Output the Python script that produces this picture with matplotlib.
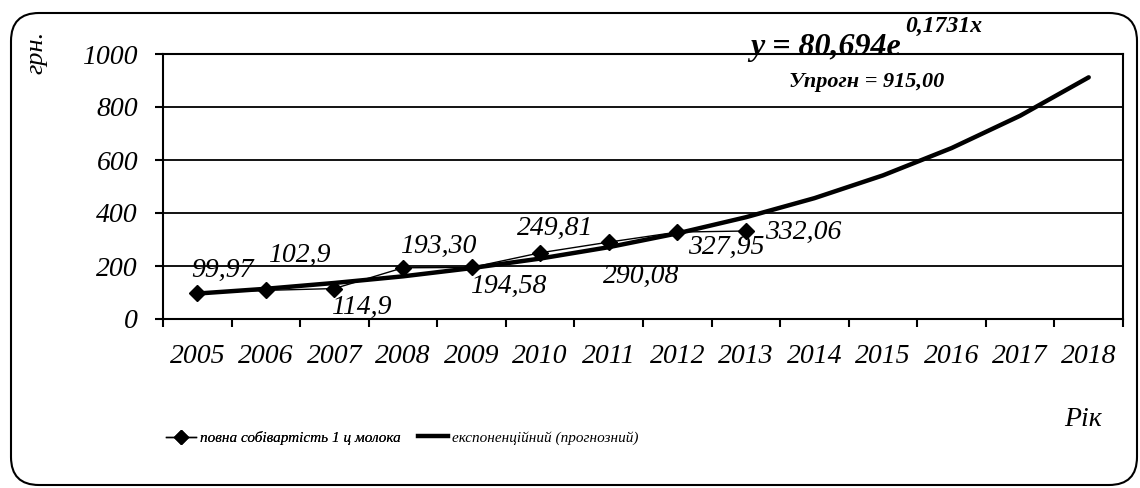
import matplotlib
matplotlib.use("Agg")
import matplotlib.pyplot as plt
from matplotlib.patches import FancyBboxPatch
from matplotlib.transforms import IdentityTransform
from matplotlib.lines import Line2D

plt.rcParams['font.family'] = ['Liberation Serif', 'DejaVu Serif']

# ---------------------
# DATA
# ---------------------
years = ['2005', '2006', '2007', '2008', '2009', '2010', '2011',
         '2012', '2013', '2014', '2015', '2016', '2017', '2018']

cost = [99.97, 108.0, 114.9, 193.30, 194.58, 249.81, 290.08, 327.95, 332.06]
cost_labels = ['99,97', '102,9', '114,9', '193,30', '194,58',
               '249,81', '290,08', '327,95', '332,06']

trend = [96, 114, 136, 161, 192, 228, 271, 323, 384, 456, 542, 645, 767, 912]

# label offsets (pixels) from each point
label_offsets = [(25, 22), (33, 35), (27, -19), (35, 21), (37, -19),
                 (15, 24), (32, -34), (49, -15), (57, -1)]

# ---------------------
# FIGURE
# ---------------------
fig = plt.figure(figsize=(11.4, 4.88), dpi=100)
ax = fig.add_axes([163 / 1140, 169 / 488, 960 / 1140, 265 / 488])

x_all = list(range(len(years)))
x_cost = list(range(len(cost)))

ax.plot(x_all, trend, color='black', lw=3.2, solid_capstyle='round', zorder=3)
ax.plot(x_cost, cost, color='black', lw=1.0, marker='D', markersize=8,
        zorder=4)

for xi, yi, lab, off in zip(x_cost, cost, cost_labels, label_offsets):
    ax.annotate(lab, (xi, yi), xytext=off, textcoords='offset pixels',
                ha='center', va='center', fontsize=20, style='italic')

ax.set_xlim(-0.5, len(years) - 0.5)
ax.set_ylim(0, 1000)
ax.set_yticks([0, 200, 400, 600, 800, 1000])
ax.yaxis.grid(True, color='black', lw=1.3)
ax.set_axisbelow(True)

ax.set_xticks([i - 0.5 for i in range(len(years) + 1)])
ax.set_xticklabels([])
ax.set_xticks(x_all, minor=True)
ax.set_xticklabels(years, minor=True)
ax.tick_params(axis='x', which='major', length=6, width=1.5, direction='out')
ax.tick_params(axis='x', which='minor', length=0, pad=18, labelsize=20)
ax.tick_params(axis='y', length=6, width=1.5, direction='out', pad=12,
               labelsize=20)
for t in ax.get_yticklabels() + ax.get_xticklabels(minor=True):
    t.set_style('italic')

for s in ax.spines.values():
    s.set_linewidth(1.5)

# text around the plot
fig.text(36 / 1140, 1 - 52 / 488, 'грн.', rotation=90, ha='center', va='center',
         fontsize=19, style='italic')
fig.text(1083 / 1140, 1 - 419 / 488, 'Рік', ha='center', va='center',
         fontsize=20, style='italic')

fig.text(750 / 1140, 1 - 48 / 488, 'y = 80,694e', ha='left', va='center',
         fontsize=23, style='italic', weight='bold')
fig.text(944 / 1140, 1 - 26 / 488, '0,1731x', ha='center', va='center',
         fontsize=17, style='italic', weight='bold')
fig.text(867 / 1140, 1 - 82 / 488, 'Упрогн = 915,00', ha='center', va='center',
         fontsize=16, style='italic', weight='bold')

# legend (two entries placed separately)
h1 = Line2D([], [], color='black', lw=1.0, marker='D', markersize=7)
h2 = Line2D([], [], color='black', lw=3.2)
leg1 = fig.legend([h1], ['повна собівартість 1 ц молока'],
                  loc='center left', bbox_to_anchor=(166 / 1140, 1 - 438 / 488),
                  frameon=False, handlelength=1.95, handletextpad=0.3,
                  borderpad=0, borderaxespad=0,
                  prop={'style': 'italic', 'size': 11})
leg2 = fig.legend([h2], ['експоненційний (прогнозний)'],
                  loc='center left', bbox_to_anchor=(418 / 1140, 1 - 438 / 488),
                  frameon=False, handlelength=1.95, handletextpad=0.3,
                  borderpad=0, borderaxespad=0,
                  prop={'style': 'italic', 'size': 11})
fig.add_artist(leg1)

# rounded outer frame
frame = FancyBboxPatch((11, 3), 1126, 472,
                       boxstyle='round,pad=0,rounding_size=28',
                       transform=IdentityTransform(), fill=False,
                       edgecolor='black', lw=1.5)
fig.add_artist(frame)

fig.savefig('out.png', dpi=100)
